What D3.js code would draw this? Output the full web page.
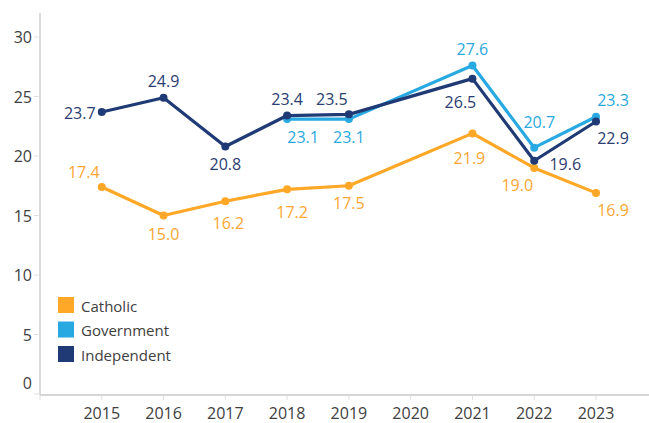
<!DOCTYPE html>
<html>
<head>
<meta charset="utf-8">
<script src="https://cdn.jsdelivr.net/npm/d3@7"></script>
<style>
  body { margin: 0; background: #fff; }
  text { font-family: "Open Sans", sans-serif; }
</style>
</head>
<body>
<svg id="chart" width="649" height="423"></svg>
<script>
// data
var years = [2015, 2016, 2017, 2018, 2019, 2020, 2021, 2022, 2023];
var catholic = [17.4, 15.0, 16.2, 17.2, 17.5, null, 21.9, 19.0, 16.9];
var government = [null, null, null, 23.1, 23.1, null, 27.6, 20.7, 23.3];
var independent = [23.7, 24.9, 20.8, 23.4, 23.5, null, 26.5, 19.6, 22.9];
var yTicks = [0, 5, 10, 15, 20, 25, 30];

// label offsets (dx, dy from point), same order as years
var catholicLbl = [[-18, -15], [0, 18], [3, 22], [5, 23], [0, 17], null, [-3, 25], [-17, 17], [17, 17]];
var governmentLbl = [null, null, null, [16, 18], [0, 18], null, [0, -17], [5, -26], [17, -17]];
var independentLbl = [[-22, 1], [0, -17], [0, 18], [0, -17], [-17, -15], null, [-12, 23], [31, 3], [17, 17]];

var series = [
    { name: "Catholic", values: catholic, lbl: catholicLbl, color: "#FFA726", text: "#FBA634" },
    { name: "Government", values: government, lbl: governmentLbl, color: "#29A9E1", text: "#2AA9E0" },
    { name: "Independent", values: independent, lbl: independentLbl, color: "#1F3A75", text: "#2B3C70" }
];

var svg = d3.select("#chart");

var x = d3.scaleLinear().domain([2014, 2023]).range([40, 596]);
var y = d3.scaleLinear().domain([0, 30]).range([394, 37]);

// y axis
svg.append("line").attr("x1", 40).attr("x2", 40).attr("y1", 13).attr("y2", 395)
    .attr("stroke", "#C8C8C8").attr("stroke-width", 1.3);
var yAxis = svg.append("g").selectAll("g").data(yTicks).enter().append("g");
yAxis.append("line")
    .attr("x1", 34).attr("x2", 40)
    .attr("y1", d => y(d)).attr("y2", d => y(d))
    .attr("stroke", "#E0E0E0");
yAxis.append("text")
    .attr("x", 32)
    .attr("y", d => d === 0 ? y(d) - 11 : y(d))
    .attr("text-anchor", "end")
    .attr("dominant-baseline", "central")
    .attr("font-size", "16px")
    .attr("fill", "#404040")
    .text(d => d);

// x axis
svg.append("line").attr("x1", 40).attr("x2", 649).attr("y1", 395).attr("y2", 395)
    .attr("stroke", "#C8C8C8").attr("stroke-width", 1.3);
var xAxis = svg.append("g").selectAll("g").data([2014].concat(years)).enter().append("g");
xAxis.append("line")
    .attr("x1", d => x(d)).attr("x2", d => x(d))
    .attr("y1", 395).attr("y2", 400)
    .attr("stroke", "#E0E0E0");
xAxis.filter(d => d !== 2014).append("text")
    .attr("x", d => x(d))
    .attr("y", 413)
    .attr("text-anchor", "middle")
    .attr("dominant-baseline", "central")
    .attr("font-size", "16px")
    .attr("fill", "#404040")
    .text(d => d);

var line = d3.line().x(d => x(d.year)).y(d => y(d.value));

series.forEach(function (s) {
    var pts = years.map(function (yr, i) {
        return { year: yr, value: s.values[i], off: s.lbl[i] };
    }).filter(d => d.value !== null);

    var g = svg.append("g");
    g.append("path")
        .datum(pts)
        .attr("d", line)
        .attr("fill", "none")
        .attr("stroke", s.color)
        .attr("stroke-width", 3.2)
        .attr("stroke-linejoin", "round");
    g.selectAll("circle").data(pts).enter().append("circle")
        .attr("cx", d => x(d.year))
        .attr("cy", d => y(d.value))
        .attr("r", 4)
        .attr("fill", s.color);
    g.selectAll("text").data(pts).enter().append("text")
        .attr("x", d => x(d.year) + d.off[0])
        .attr("y", d => y(d.value) + d.off[1])
        .attr("text-anchor", "middle")
        .attr("dominant-baseline", "central")
        .attr("font-size", "16px")
        .attr("fill", s.text)
        .text(d => d.value.toFixed(1));
});

// legend
var legend = svg.append("g").selectAll("g").data(series).enter().append("g")
    .attr("transform", (d, i) => "translate(58," + (297 + i * 24.5) + ")");
legend.append("rect")
    .attr("width", 16).attr("height", 16)
    .attr("fill", d => d.color);
legend.append("text")
    .attr("x", 23).attr("y", 8.5)
    .attr("dominant-baseline", "central")
    .attr("font-size", "15px")
    .attr("fill", "#404040")
    .text(d => d.name);
</script>
</body>
</html>
